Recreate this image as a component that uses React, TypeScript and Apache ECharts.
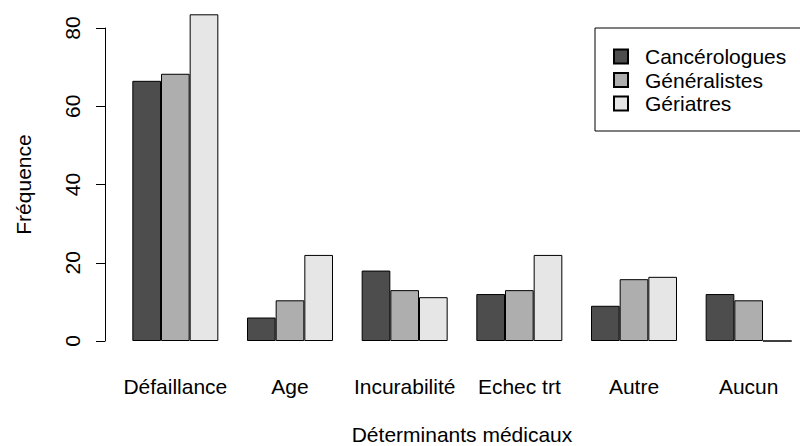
import React, { useEffect, useRef } from "react";
import * as echarts from "echarts";

const categories = ["Défaillance", "Age", "Incurabilité", "Echec trt", "Autre", "Aucun"];
const seriesNames = ["Cancérologues", "Généralistes", "Gériatres"];
const cancerologues = [66.5, 6, 18, 12, 9, 12];
const generalistes = [68.3, 10.4, 13, 13, 15.8, 10.4];
const geriatres = [83.5, 22, 11.2, 22, 16.4, 0];
const colors = ["#4D4D4D", "#AEAEAE", "#E6E6E6"];
const yTicks = [0, 20, 40, 60, 80];

const FONT = "'Liberation Sans', Arial, Helvetica, sans-serif";
const FS = 21;

export default function App() {
  const ref = useRef<HTMLDivElement>(null);
  useEffect(() => {
    if (!ref.current) return;
    const chart = echarts.init(ref.current, undefined, { renderer: "svg" });
    const data = [cancerologues, generalistes, geriatres];
    chart.setOption({
      animation: false,
      backgroundColor: "#ffffff",
      textStyle: { fontFamily: FONT },
      grid: {
        left: 118,
        right: -6,
        top: 28,
        bottom: 105,
        containLabel: false,
        outerBoundsMode: "none",
      },
      graphic: [
        {
          type: "rect",
          z: 1,
          shape: { x: 595, y: 28, width: 240, height: 103 },
          style: { fill: "#ffffff", stroke: "#000000", lineWidth: 1 },
        },
      ],
      legend: {
        orient: "vertical",
        left: 595,
        top: 28,
        z: 5,
        padding: [18, 18, 18, 18],
        itemWidth: 14,
        itemHeight: 14,
        itemGap: 2.5,
        icon: "rect",
        textStyle: { fontSize: FS, color: "#000000", fontFamily: FONT, padding: [0, 0, 0, 12] },
        data: seriesNames,
      },
      xAxis: {
        type: "category",
        data: categories,
        axisLine: { show: false },
        axisTick: { show: false },
        axisLabel: { fontSize: FS, color: "#000000", margin: 35, fontFamily: FONT, interval: 0 },
        name: "Déterminants médicaux",
        nameLocation: "middle",
        nameGap: 83,
        nameTextStyle: { fontSize: FS, color: "#000000", fontFamily: FONT },
      },
      yAxis: {
        type: "value",
        min: 0,
        max: 80,
        interval: 20,
        offset: 13,
        splitLine: { show: false },
        axisLine: { show: true, lineStyle: { color: "#000000", width: 1 } },
        axisTick: { show: true, length: 9, lineStyle: { color: "#000000", width: 1 } },
        axisLabel: {
          fontSize: FS,
          color: "#000000",
          rotate: 90,
          margin: 22,
          fontFamily: FONT,
          formatter: (v: number) => (yTicks.includes(v) ? String(v) : ""),
        },
        name: "Fréquence",
        nameLocation: "middle",
        nameGap: 71,
        nameRotate: 90,
        nameTextStyle: { fontSize: FS, color: "#000000", fontFamily: FONT },
      },
      series: seriesNames.map((name, i) => ({
        name,
        type: "bar",
        data: data[i],
        barGap: "0%",
        barCategoryGap: "25%",
        clip: false,
        itemStyle: { color: colors[i], borderColor: "#000000", borderWidth: 1 },
        emphasis: { disabled: true },
      })),
    });
    return () => chart.dispose();
  }, []);
  return (
    <div
      ref={ref}
      style={{ position: "fixed", left: 0, top: 0, width: 800, height: 446 }}
    />
  );
}
